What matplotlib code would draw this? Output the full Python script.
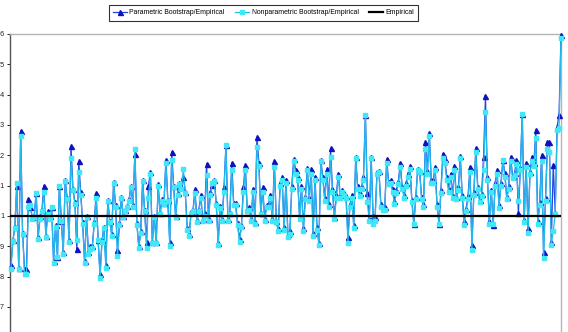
import matplotlib
matplotlib.use("Agg")
import matplotlib.pyplot as plt

# ratio of bootstrap estimates to the empirical value, one per case
parametric = [
    0.84, 0.92, 0.965, 1.10, 0.83, 1.28, 0.945, 0.825, 0.825, 1.055,
    1.03, 0.997, 1.0, 1.077, 0.93, 1.0, 1.02, 1.10, 0.935, 1.015,
    1.0, 1.03, 0.85, 0.97, 0.865, 1.10, 0.985, 0.88, 1.12, 1.06,
    0.92, 1.23, 1.09, 1.045, 0.89, 1.18, 1.08, 0.98, 0.85, 1.0,
    0.88, 0.9, 0.9, 0.98, 1.075, 0.92, 0.81,
    0.92, 0.965, 0.84, 1.053, 0.985, 0.94, 1.113, 1.036, 0.888, 0.977,
    1.062, 1.0, 1.02, 1.033, 1.055, 1.10, 1.036, 1.205, 0.977, 0.9,
    0.95, 1.12, 1.02, 0.915, 1.10, 1.146, 0.915, 1.0, 0.915, 1.105,
    1.01, 1.055, 1.043, 1.185, 1.053, 0.915, 1.21, 1.10, 1.0, 1.075,
    1.11, 1.095, 1.13, 1.08, 0.96, 0.94,
    1.014, 1.02, 1.088, 0.987, 1.02, 1.07, 0.99, 1.01, 1.172, 0.99,
    1.08, 1.102, 1.12, 1.042, 0.912, 1.033, 0.99, 1.095, 1.234, 0.99,
    1.01, 1.176, 1.042, 1.042, 0.976, 0.923, 0.97, 1.095, 1.168, 1.02,
    1.03, 0.99, 1.09, 0.98, 1.26, 1.176, 1.01, 1.095, 0.99, 1.035,
    1.04, 1.07, 0.99, 1.18, 0.985, 0.96,
    1.108, 1.128, 0.965, 1.12, 0.94, 0.95, 1.10, 1.187, 1.152, 1.13,
    0.998, 1.10, 0.96, 1.064, 1.157, 1.058, 1.154, 0.945, 1.13, 0.965,
    0.912, 1.185, 1.13, 1.058, 1.154, 1.04, 1.223, 1.09, 0.998, 1.07,
    1.14, 1.07, 1.087, 1.075, 1.066, 0.932, 1.036, 1.07, 0.97, 1.193,
    1.098, 1.075, 1.096, 1.128, 1.333, 1.075, 0.99,
    1.193, 1.0, 0.998, 1.145, 1.148, 1.038, 1.025, 1.03, 1.187, 1.113,
    1.118, 1.09, 1.049, 1.085, 1.113, 1.174, 1.096, 1.07, 1.108, 1.14,
    1.164, 1.052, 0.974, 1.061, 1.154, 1.148, 1.064, 1.038, 1.245, 1.148,
    1.275, 1.118, 1.118, 1.16, 1.04, 0.974, 1.085, 1.206, 1.187, 1.13,
    1.09, 1.14, 1.066, 1.164, 1.064, 1.094, 1.198,
    1.069, 0.985, 1.024, 1.065, 1.162, 0.903, 1.08, 1.223, 1.097, 1.052,
    1.074, 1.193, 1.394, 1.13, 0.982, 1.086, 0.971, 1.108, 1.151, 1.036,
    1.11, 1.185, 1.141, 1.063, 1.1, 1.196, 1.132, 1.141, 1.185, 1.009,
    1.157, 1.337, 0.986, 1.174, 0.96, 1.146, 1.196, 1.174, 1.284, 0.982,
    1.047, 1.201, 0.882, 1.058, 1.245, 1.245, 0.914, 1.168, 1.011, 1.293,
    1.334, 1.597,
]

nonparametric = [
    0.825, 0.918, 0.96, 1.11, 0.825, 1.265, 0.94, 0.81, 0.81, 1.03,
    1.035, 0.99, 0.995, 1.075, 0.925, 0.99, 1.015, 1.08, 0.93, 1.005,
    0.99, 1.03, 0.845, 0.965, 0.865, 1.10, 0.985, 0.875, 1.115, 1.055,
    0.915, 1.19, 1.085, 1.04, 0.92, 1.145, 1.07, 0.975, 0.845, 0.995,
    0.875, 0.89, 0.895, 0.975, 1.06, 0.92, 0.795,
    0.915, 0.96, 0.83, 1.05, 0.98, 0.935, 1.11, 1.03, 0.868, 0.97,
    1.06, 0.995, 1.015, 1.03, 1.05, 1.095, 1.03, 1.22, 0.97, 0.895,
    0.945, 1.115, 1.015, 0.895, 1.06, 1.14, 0.91, 0.995, 0.91, 1.1,
    1.005, 1.05, 1.04, 1.175, 1.05, 0.9, 1.185, 1.095, 0.995, 1.07,
    1.105, 1.09, 1.155, 1.075, 0.955, 0.935,
    1.005, 1.015, 1.075, 0.98, 1.015, 1.06, 0.985, 1.0, 1.135, 0.985,
    1.07, 1.11, 1.115, 1.035, 0.905, 1.025, 0.985, 1.08, 1.234, 0.985,
    1.005, 1.15, 1.035, 1.035, 0.97, 0.915, 0.965, 1.08, 1.15, 1.015,
    1.02, 0.985, 1.08, 0.975, 1.227, 1.165, 1.005, 1.08, 0.985, 1.03,
    1.03, 1.06, 0.985, 1.16, 0.98, 0.95,
    1.1, 1.12, 0.955, 1.11, 0.93, 0.94, 1.09, 1.18, 1.14, 1.12,
    0.99, 1.09, 0.95, 1.055, 1.15, 1.05, 1.14, 0.935, 1.12, 0.955,
    0.905, 1.18, 1.12, 1.05, 1.14, 1.03, 1.195, 1.08, 0.99, 1.06,
    1.13, 1.06, 1.08, 1.07, 1.06, 0.91, 1.03, 1.06, 0.96, 1.19,
    1.09, 1.065, 1.09, 1.12, 1.333, 1.045, 0.985,
    1.19, 0.975, 0.985, 1.14, 1.145, 1.03, 1.02, 1.02, 1.175, 1.105,
    1.11, 1.08, 1.04, 1.075, 1.105, 1.16, 1.09, 1.06, 1.1, 1.13,
    1.155, 1.045, 0.974, 1.055, 1.15, 1.145, 1.055, 1.03, 1.22, 1.14,
    1.265, 1.11, 1.11, 1.15, 1.03, 0.974, 1.075, 1.19, 1.175, 1.12,
    1.08, 1.13, 1.06, 1.15, 1.055, 1.085, 1.19,
    1.06, 0.97, 1.015, 1.055, 1.145, 0.887, 1.07, 1.21, 1.09, 1.045,
    1.065, 1.15, 1.344, 1.12, 0.975, 1.08, 0.975, 1.1, 1.14, 1.025,
    1.1, 1.185, 1.13, 1.055, 1.09, 1.18, 1.125, 1.135, 1.17, 1.05,
    1.15, 1.337, 0.98, 1.16, 0.944, 1.14, 1.18, 1.165, 1.256, 0.975,
    1.035, 1.18, 0.86, 1.05, 1.22, 1.21, 0.905, 0.95, 1.005, 1.285,
    1.29, 1.586,
]

empirical_level = 1.0
y_ticks = [0.7, 0.8, 0.9, 1.0, 1.1, 1.2, 1.3, 1.4, 1.5, 1.6]
y_tick_labels = ["0.7", "0.8", "0.9", "1", "1.1", "1.2", "1.3", "1.4", "1.5", "1.6"]

plt.rcParams['font.family'] = ['Liberation Sans', 'DejaVu Sans']

W, H = 568, 332
fig = plt.figure(figsize=(W / 100, H / 100), dpi=100)
# plot area: left axis at x=10, right edge at 561, 1.6 at y=34, 0.1 per ~30.3 px
top_px, per_unit = 34, 303.3
ax = fig.add_axes([10 / W, (H - top_px - per_unit) / H, 551 / W, per_unit / H])

x = list(range(len(parametric)))
ax.plot(x, parametric, color='#2244dd', lw=0.9, marker='^', markersize=3.6,
        markerfacecolor='#1010c0', markeredgecolor='#1010c0',
        label='Parametric Bootstrap/Empirical', clip_on=False, zorder=3)
ax.plot(x, nonparametric, color='#22bbee', lw=0.9, marker='s', markersize=3.2,
        markerfacecolor='#3ee8f6', markeredgecolor='#3ee8f6',
        label='Nonparametric Bootstrap/Empirical', clip_on=False, zorder=4)
ax.axhline(empirical_level, color='black', lw=1.6, label='Empirical', zorder=5)

ax.set_xlim(-0.5, len(parametric) - 1)
ax.set_ylim(0.6, 1.6)
ax.set_yticks(y_ticks)
ax.set_yticklabels(y_tick_labels, fontsize=5.2)
ax.tick_params(axis='y', length=2.5, width=0.7, pad=1.5, colors='#222222')
ax.set_xticks([])

for side in ('top', 'right'):
    ax.spines[side].set_color('#b4b4b4')
    ax.spines[side].set_linewidth(1.0)
ax.spines['left'].set_color('#555555')
ax.spines['left'].set_linewidth(1.0)
ax.spines['bottom'].set_visible(False)

leg = fig.legend(loc='center', bbox_to_anchor=(263.5 / W, 1 - 13 / H), ncol=3,
                 fontsize=4.95, frameon=True, fancybox=False, edgecolor='black',
                 handlelength=2.0, handletextpad=0.4, columnspacing=1.5,
                 borderpad=0.6, markerscale=1.0)
leg.get_frame().set_linewidth(0.8)

fig.savefig('out.png', dpi=100)
